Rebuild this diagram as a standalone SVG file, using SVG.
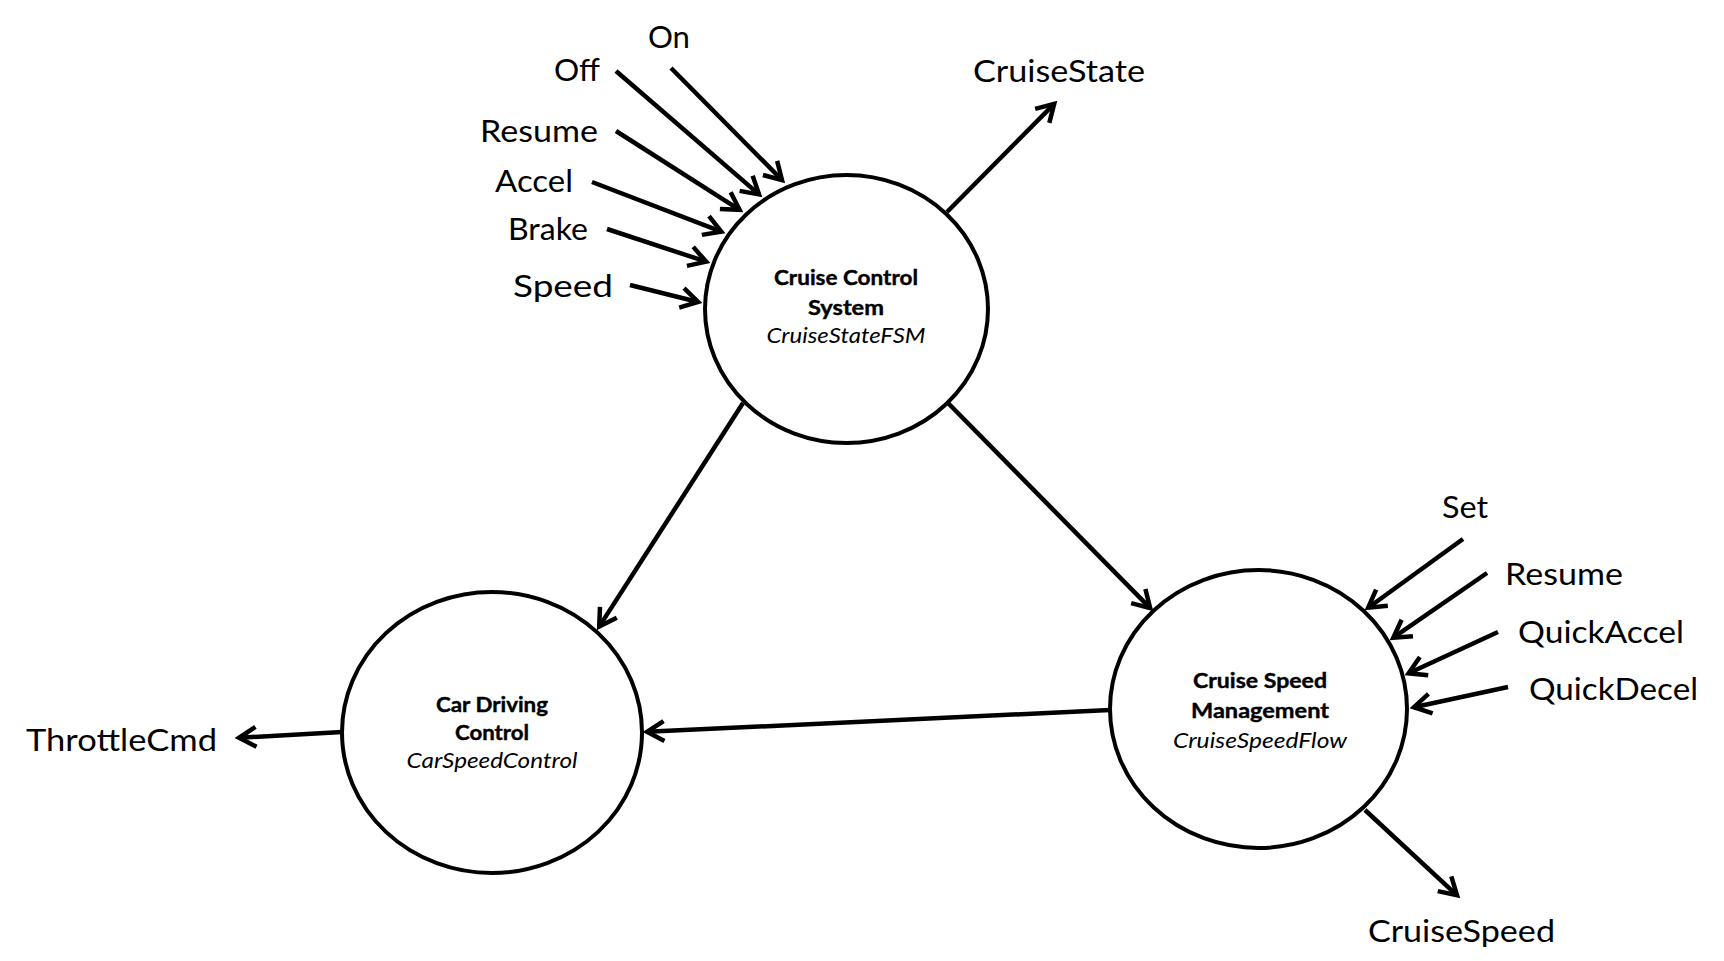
<svg xmlns="http://www.w3.org/2000/svg" width="1724" height="961" viewBox="0 0 1724 961">
<style>
.node{fill:#fff;stroke:#000;stroke-width:4}
.conn{fill:none;stroke:#000;stroke-width:4.5;marker-end:url(#arr)}
.lbl{font-family:Lato,"Open Sans","Liberation Sans",sans-serif;font-size:31px;fill:#000}
.nt{font-family:Lato,"Open Sans","Liberation Sans",sans-serif;font-size:20.5px;font-weight:bold;fill:#000;text-anchor:middle;stroke:#000;stroke-width:0.4}
.ni{font-family:Lato,"Open Sans","Liberation Sans",sans-serif;font-size:20.5px;font-style:italic;fill:#000;text-anchor:middle}
</style>
<defs>
<marker id="arr" markerUnits="userSpaceOnUse" viewBox="-24 -14 30 28" refX="0" refY="0" markerWidth="30" markerHeight="28" orient="auto">
<path d="M-17,-10 L0,0 L-17,10" fill="none" stroke="#000" stroke-width="4.5" stroke-linejoin="miter"/>
</marker>
</defs>
<rect width="1724" height="961" fill="#fff"/>
<g id="connectors">
<path class="conn" d="M671,68 L782,180"/>
<path class="conn" d="M616,71 L759,194.4"/>
<path class="conn" d="M616,131 L739.6,209.8"/>
<path class="conn" d="M592,182 L721.3,231.6"/>
<path class="conn" d="M607,229 L706.2,261.7"/>
<path class="conn" d="M630,285 L698.1,302"/>
<path class="conn" d="M947,212 L1054.2,103.8"/>
<path class="conn" d="M743,403 L599.2,626.6"/>
<path class="conn" d="M948,403 L1150.2,608.2"/>
<path class="conn" d="M1110,710 L647,731.8"/>
<path class="conn" d="M342,732 L239,737.8"/>
<path class="conn" d="M1463,539 L1368.2,607.7"/>
<path class="conn" d="M1487,573 L1393.3,637.7"/>
<path class="conn" d="M1498,632 L1408.6,673.3"/>
<path class="conn" d="M1508,687 L1413.9,707.2"/>
<path class="conn" d="M1365,810 L1457,895.3"/>
</g>
<g id="node-cruise-control">
<ellipse class="node" cx="846.5" cy="309" rx="141.5" ry="134"/>
<text class="nt" x="846" y="285" textLength="144" lengthAdjust="spacingAndGlyphs">Cruise Control</text>
<text class="nt" x="846" y="315" textLength="76" lengthAdjust="spacingAndGlyphs">System</text>
<text class="ni" x="846" y="343" textLength="159" lengthAdjust="spacingAndGlyphs">CruiseStateFSM</text>
</g>
<g id="node-car-driving">
<ellipse class="node" cx="492" cy="732.5" rx="150" ry="140.5"/>
<text class="nt" x="492" y="712" textLength="112" lengthAdjust="spacingAndGlyphs">Car Driving</text>
<text class="nt" x="492" y="740" textLength="74" lengthAdjust="spacingAndGlyphs">Control</text>
<text class="ni" x="492" y="768" textLength="171" lengthAdjust="spacingAndGlyphs">CarSpeedControl</text>
</g>
<g id="node-cruise-speed">
<ellipse class="node" cx="1258.5" cy="709" rx="148.5" ry="139"/>
<text class="nt" x="1260" y="688" textLength="134" lengthAdjust="spacingAndGlyphs">Cruise Speed</text>
<text class="nt" x="1260" y="718" textLength="138" lengthAdjust="spacingAndGlyphs">Management</text>
<text class="ni" x="1260" y="748" textLength="174" lengthAdjust="spacingAndGlyphs">CruiseSpeedFlow</text>
</g>
<g id="labels">
<text class="lbl" x="648" y="48" textLength="42" lengthAdjust="spacingAndGlyphs">On</text>
<text class="lbl" x="554" y="81" textLength="46" lengthAdjust="spacingAndGlyphs">Off</text>
<text class="lbl" x="480" y="142" textLength="118" lengthAdjust="spacingAndGlyphs">Resume</text>
<text class="lbl" x="495" y="192" textLength="78" lengthAdjust="spacingAndGlyphs">Accel</text>
<text class="lbl" x="508" y="240" textLength="80" lengthAdjust="spacingAndGlyphs">Brake</text>
<text class="lbl" x="513" y="297" textLength="100" lengthAdjust="spacingAndGlyphs">Speed</text>
<text class="lbl" x="973" y="82" textLength="172" lengthAdjust="spacingAndGlyphs">CruiseState</text>
<text class="lbl" x="1442" y="518" textLength="46" lengthAdjust="spacingAndGlyphs">Set</text>
<text class="lbl" x="1505" y="585" textLength="118" lengthAdjust="spacingAndGlyphs">Resume</text>
<text class="lbl" x="1518" y="643" textLength="166" lengthAdjust="spacingAndGlyphs">QuickAccel</text>
<text class="lbl" x="1529" y="700" textLength="169" lengthAdjust="spacingAndGlyphs">QuickDecel</text>
<text class="lbl" x="1368" y="942" textLength="187" lengthAdjust="spacingAndGlyphs">CruiseSpeed</text>
<text class="lbl" x="26" y="751" textLength="191" lengthAdjust="spacingAndGlyphs">ThrottleCmd</text>
</g>
</svg>
